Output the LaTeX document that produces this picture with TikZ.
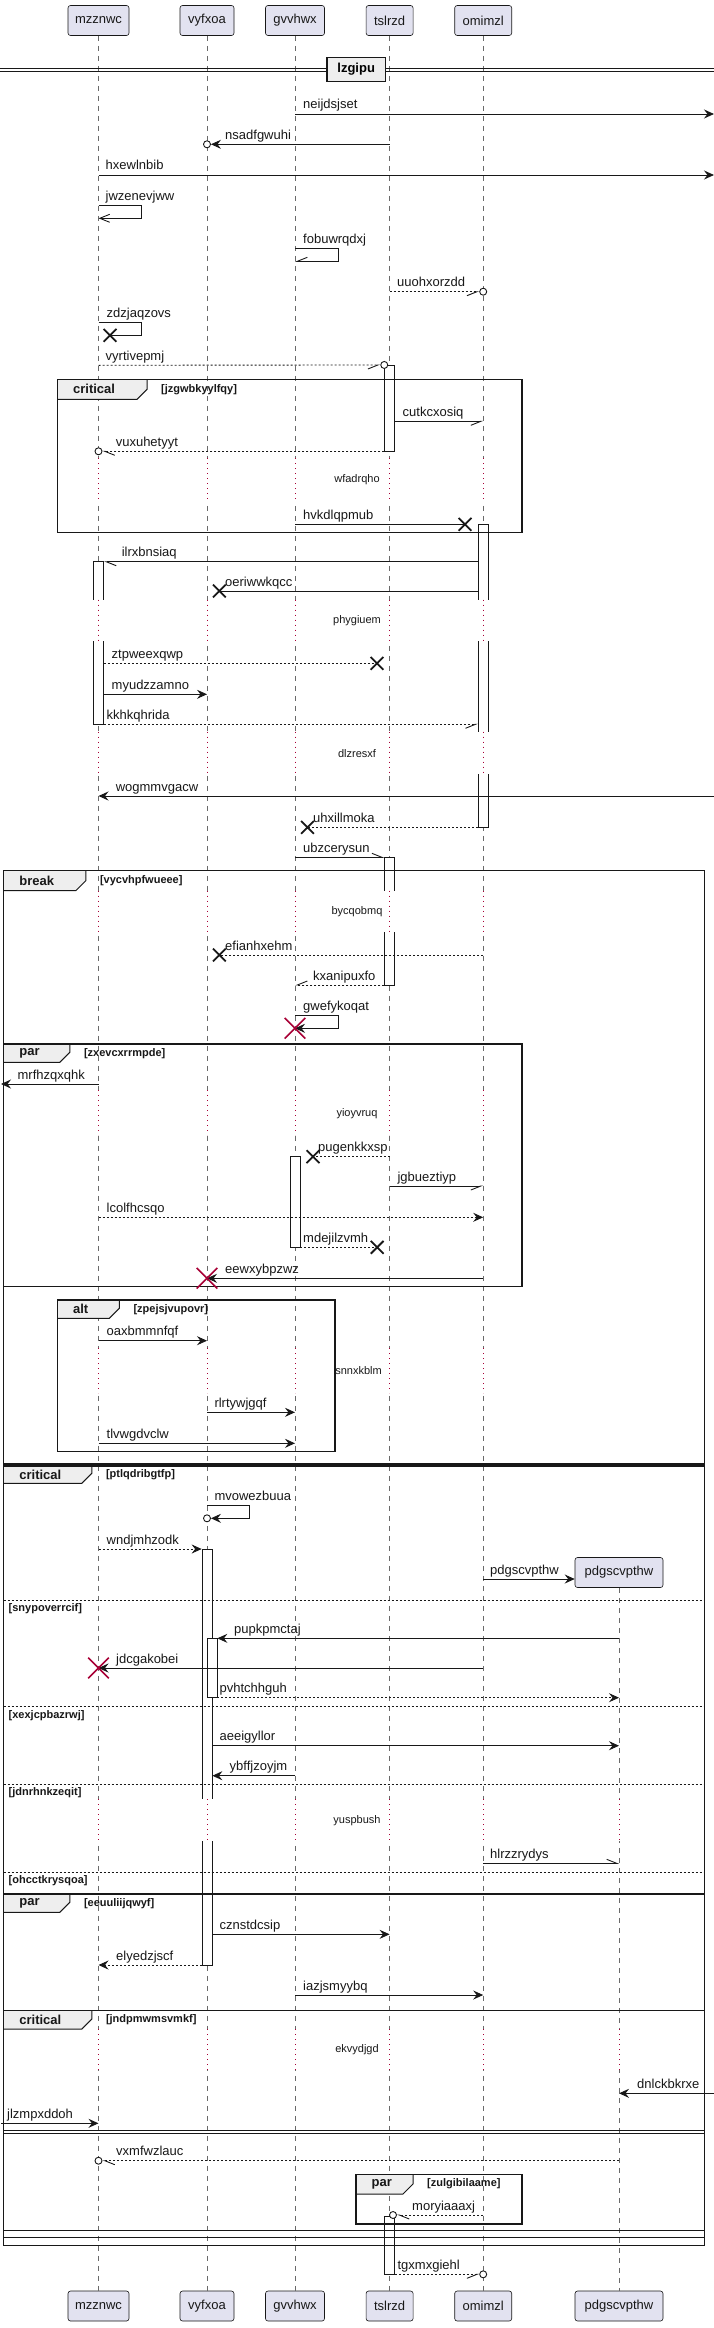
\documentclass[tikz,border=0pt]{standalone}
\usepackage{fontspec}
\setmainfont{Liberation Sans}
\usetikzlibrary{arrows.meta,shapes.misc}
\definecolor{ink}{HTML}{181818}
\definecolor{partfill}{HTML}{E2E2F0}
\definecolor{tabfill}{HTML}{EEEEEE}
\definecolor{crim}{HTML}{A80036}
\tikzset{
  part/.style={draw=ink, fill=partfill, rounded corners=2.5pt, line width=0.6pt, minimum height=30pt, inner sep=0pt, font=\fontsize{13}{15}\selectfont, text=ink},
  lifel/.style={draw=ink!65, line width=0.6pt, dash pattern=on 5pt off 5pt},
  dlyline/.style={draw=crim, line width=0.7pt, dash pattern=on 1pt off 4pt},
  dlytext/.style={font=\fontsize{11}{13}\selectfont, inner sep=0pt, text=ink},
  act/.style={draw=ink, fill=white, line width=0.7pt, minimum width=10pt, inner sep=0pt},
  msg/.style={draw=ink, line width=0.9pt},
  rmsg/.style={msg, dash pattern=on 2pt off 2pt},
  tipfull/.style={-{Stealth[length=10pt,width=9pt,inset=3.5pt]}},
  tipopen/.style={-{Straight Barb[length=10pt,width=8pt]}},
  tiphl/.style={-{Straight Barb[length=10pt,width=8pt,left]}},
  tiphr/.style={-{Straight Barb[length=10pt,width=8pt,right]}},
  ml/.style={font=\fontsize{13}{15}\selectfont, inner sep=0pt, anchor=base west, text=ink},
  circ/.style={circle, draw=ink, fill=white, line width=0.9pt, minimum size=7pt, inner sep=0pt},
  lost/.style={cross out, draw=ink, line width=1.8pt, minimum size=11pt, inner sep=0pt},
  kill/.style={cross out, draw=crim, line width=1.6pt, minimum size=19pt, inner sep=0pt},
  frm/.style={draw=ink, line width=1.5pt},
  tabedge/.style={draw=ink, line width=1pt},
  tabl/.style={font=\bfseries\fontsize{13}{15}\selectfont, inner sep=0pt, anchor=west, text=ink},
  guardl/.style={font=\bfseries\fontsize{11}{13}\selectfont, inner sep=0pt, anchor=west, text=ink},
  elsel/.style={draw=ink, line width=0.8pt, dash pattern=on 2pt off 2pt},
}
% name x0 y0 x1 y1 tabright tabbottom label guard
\newcommand\grp[9]{%
  \fill[tabfill] (#2,#3) -- (#6,#3) -- (#6,#7-10) -- (#6-10,#7) -- (#2,#7) -- cycle;
  \draw[tabedge] (#6,#3) -- (#6,#7-10) -- (#6-10,#7) -- (#2,#7);
  \draw[frm] (#2,#3) rectangle (#4,#5);
  \node[tabl] (#1l) at (#2+15.5,{(#3+#7)/2}) {#8};
  \node[guardl] (#1g) at (#6+14,{(#3+#7)/2}) {#9};
}
\newcommand\elseline[3]{%
  \draw[elsel] (3.7,#2) -- (704.4,#2);
  \node[guardl] (#1) at (8.5,#2+8.5) {#3};
}
% y1 y2 list
\newcommand\dgap[3]{%
  \foreach \n in {#3} {
    \fill[white] ([xshift=-7pt]\n |- 0,#1) rectangle ([xshift=7pt]\n |- 0,#2);
    \draw[dlyline] (\n |- 0,#1) -- (\n |- 0,#2);
  }
}
\begin{document}
\begin{tikzpicture}[x=1pt,y=-1pt]
\useasboundingbox (0,0) rectangle (714,2328);
\fill[white] (0,0) rectangle (714,2328);
\coordinate (redge) at (714,0);
\coordinate (ledge) at (1,0);

% participants
\node[part, minimum width=61pt] (p1) at (98.5,20.5) {mzznwc};
\node[part, minimum width=54pt] (p2) at (207,20.5) {vyfxoa};
\node[part, minimum width=59pt] (p3) at (295,20.5) {gvvhwx};
\node[part, minimum width=47pt] (p4) at (389.6,20.5) {tslrzd};
\node[part, minimum width=57pt] (p5) at (483.2,20.5) {omimzl};
\node[part, minimum width=88pt] (p6) at (619,1572.5) {pdgscvpthw};
\node[part, minimum width=61pt] (q1) at (98.5,2306) {mzznwc};
\node[part, minimum width=54pt] (q2) at (207,2306) {vyfxoa};
\node[part, minimum width=59pt] (q3) at (295,2306) {gvvhwx};
\node[part, minimum width=47pt] (q4) at (389.6,2306) {tslrzd};
\node[part, minimum width=57pt] (q5) at (483.2,2306) {omimzl};
\node[part, minimum width=88pt] (q6) at (619,2306) {pdgscvpthw};

% lifelines
\draw[lifel] (p1.south) -- (q1.north);
\draw[lifel] (p2.south) -- (q2.north);
\draw[lifel] (p3.south) -- (q3.north);
\draw[lifel] (p4.south) -- (q4.north);
\draw[lifel] (p5.south) -- (q5.north);
\draw[lifel] (p6.south) -- (q6.north);

% activations
\node[act, minimum height=86pt] (a1) at (p4 |- 0,408.3) {};
\node[act, minimum height=303pt] (a2) at (p5 |- 0,675.8) {};
\node[act, minimum height=162.6pt] (a3) at (p1 |- 0,643) {};
\node[act, minimum height=127.7pt] (a4) at (p4 |- 0,921.15) {};
\node[act, minimum height=90.6pt] (a5) at (p3 |- 0,1202) {};
\node[act, minimum height=416pt] (a6) at (p2 |- 0,1757) {};
\node[act, minimum height=59.4pt] (a7) at ([xshift=5pt]p2 |- 0,1668) {};
\node[act, minimum height=57.6pt] (a8) at (p4 |- 0,2245.5) {};

% delays
\dgap{458.3}{501.7}{p1,p2,p3,p4,p5}
\node[dlytext] (d1) at (357,480) {wfadrqho};
\dgap{599.7}{641}{p1,p2,p3,p4,p5}
\node[dlytext] (d2) at (357,620.5) {phygiuem};
\dgap{731.7}{774}{p1,p2,p3,p4,p5}
\node[dlytext] (d3) at (357,753.5) {dlzresxf};
\dgap{890.7}{931.7}{p1,p2,p3,p4,p5}
\node[dlytext] (d4) at (357,912) {bycqobmq};
\dgap{1090}{1135}{p1,p2,p3,p4,p5}
\node[dlytext] (d5) at (357,1113.5) {yioyvruq};
\dgap{1348.3}{1393.3}{p1,p2,p3,p4,p5}
\node[dlytext] (d6) at (358.5,1370.5) {snnxkblm};
\dgap{1799.3}{1841}{p1,p2,p3,p4,p5,p6}
\node[dlytext] (d7) at (357,1821) {yuspbush};
\dgap{2029}{2070}{p1,p2,p3,p4,p5,p6}
\node[dlytext] (d8) at (357,2050) {ekvydjgd};

% frames
\grp{f1}{57.4}{379.3}{521.8}{532.7}{147}{399.3}{critical}{[jzgwbkyylfqy]}
\grp{f2}{3.7}{870.7}{704.4}{1464}{85.8}{890.7}{break}{[vycvhpfwueee]}
\grp{f3}{3.7}{1044}{521.8}{1286.3}{69.8}{1062.3}{par}{[zxevcxrrmpde]}
\grp{f4}{57.4}{1300}{335}{1451.7}{119.3}{1318.3}{alt}{[zpejsjvupovr]}
\grp{f5}{3.7}{1466}{704.4}{2245.3}{91.8}{1483.3}{critical}{[ptlqdribgtfp]}
\elseline{e1}{1600}{[snypoverrcif]}
\elseline{e2}{1706.7}{[xexjcpbazrwj]}
\elseline{e3}{1784.3}{[jdnrhnkzeqit]}
\elseline{e4}{1872.3}{[ohcctkrysqoa]}
\grp{f6}{3.7}{1894}{704.4}{2237.7}{69.8}{1912.3}{par}{[eeuuliijqwyf]}
\grp{f7}{3.7}{2010.7}{704.4}{2230.7}{91.8}{2029}{critical}{[jndpmwmsvmkf]}
\draw[ink, line width=0.9pt] (3.7,2130.7) -- (704.4,2130.7);
\draw[ink, line width=0.9pt] (3.7,2133.2) -- (704.4,2133.2);
\grp{f8}{356}{2174.3}{521.8}{2224}{413}{2194}{par}{[zulgibilaame]}

% divider
\draw[ink, line width=0.9pt] (0,68.3) -- (714,68.3);
\draw[ink, line width=0.9pt] (0,71.3) -- (714,71.3);
\node[draw=ink, fill=tabfill, line width=1.5pt, minimum width=58.5pt, minimum height=24.4pt, inner sep=0pt, font=\bfseries\fontsize{13}{15}\selectfont] (dv) at (356.2,69.5) {lzgipu};

% messages
\draw[msg,tipfull] (p3 |- 0,114) -- (redge |- 0,114);
\node[ml] (t1) at (303,109) {neijdsjset};

\node[circ] (c1) at (p2 |- 0,144.3) {};
\draw[msg,tipfull] (p4 |- 0,144.3) -- (c1.east);
\node[ml] (t2) at (225,139.3) {nsadfgwuhi};

\draw[msg,tipfull] (p1 |- 0,175) -- (redge |- 0,175);
\node[ml] (t3) at (105.5,170) {hxewlnbib};

\draw[msg,tipopen] (p1 |- 0,205.3) -| (141.8,218.3) -- (p1 |- 0,218.3);
\node[ml] (t4) at (105.5,200.5) {jwzenevjww};

\draw[msg,tiphr] (p3 |- 0,248.3) -| (338,261.3) -- (p3 |- 0,261.3);
\node[ml] (t5) at (303,243.5) {fobuwrqdxj};

\node[circ] (c2) at (p5 |- 0,291.7) {};
\draw[rmsg,tiphr] (p4 |- 0,291.7) -- (c2.west);
\node[ml] (t6) at (397,286.7) {uuohxorzdd};

\node[lost] (x2) at (110,335.3) {};
\draw[msg] (p1 |- 0,322.3) -| (141.8,335.3) -- (x2.center);
\node[ml] (t7) at (106.5,317.5) {zdzjaqzovs};

\node[circ] (c3) at (a1.north west) {};
\draw[rmsg,tiphr] (p1 |- 0,365.3) -- (c3.west);
\node[ml] (t8) at (105.5,360.3) {vyrtivepmj};

\draw[msg,tiphr] (a1.east |- 0,421.3) -- (p5 |- 0,421.3);
\node[ml] (t9) at (402.5,416.3) {cutkcxosiq};

\node[circ] (c4) at (p1 |- 0,451.3) {};
\draw[rmsg,tiphl] (a1.west |- 0,451.3) -- (c4.east);
\node[ml] (t10) at (115.6,446.3) {vuxuhetyyt};

\node[lost] (x3) at (465,524.3) {};
\draw[msg] (p3 |- 0,524.3) -- (x3.center);
\node[ml] (t11) at (303,519.3) {hvkdlqpmub};

\draw[msg,tiphl] (a2.west |- 0,561.7) -- (a3.east |- 0,561.7);
\node[ml] (t12) at (121.6,556.7) {ilrxbnsiaq};

\node[lost] (x4) at (219.4,591) {};
\draw[msg] (a2.west |- 0,591) -- (x4.center);
\node[ml] (t13) at (225,586) {oeriwwkqcc};

\node[lost] (x5) at (377,663.3) {};
\draw[rmsg] (a3.east |- 0,663.3) -- (x5.center);
\node[ml] (t14) at (111.5,658.3) {ztpweexqwp};

\draw[msg,tipfull] (a3.east |- 0,694.3) -- (p2 |- 0,694.3);
\node[ml] (t15) at (111.5,689.3) {myudzzamno};

\draw[rmsg,tiphr] (a3.east |- 0,724.3) -- (a2.west |- 0,724.3);
\node[ml] (t16) at (106.5,719.3) {kkhkqhrida};

\draw[msg,tipfull] (redge |- 0,796) -- (p1 |- 0,796);
\node[ml] (t17) at (115.6,791) {wogmmvgacw};

\node[lost] (x6) at (307.5,827.3) {};
\draw[rmsg] (a2.west |- 0,827.3) -- (x6.center);
\node[ml] (t18) at (313,822.3) {uhxillmoka};

\draw[msg,tiphl] (p3 |- 0,857.3) -- (a4.west |- 0,857.3);
\node[ml] (t19) at (303,852.3) {ubzcerysun};

\node[lost] (x7) at (219.4,955) {};
\draw[rmsg] (p5 |- 0,955) -- (x7.center);
\node[ml] (t20) at (225,950) {efianhxehm};

\draw[rmsg,tiphr] (a4.west |- 0,985) -- (p3 |- 0,985);
\node[ml] (t21) at (313,980) {kxanipuxfo};

\draw[msg,tipfull] (p3 |- 0,1015.7) -| (338.2,1028.3) -- (p3 |- 0,1028.3);
\node[kill] (k1) at (p3 |- 0,1028.3) {};
\node[ml] (t22) at (303,1010.7) {gwefykoqat};

\draw[msg,tipfull] (p1 |- 0,1084) -- (ledge |- 0,1084);
\node[ml] (t23) at (17.4,1079) {mrfhzqxqhk};

\node[lost] (x8) at (313,1156.7) {};
\draw[rmsg] (p4 |- 0,1156.7) -- (x8.center);
\node[ml] (t24) at (318,1151.7) {pugenkkxsp};

\draw[msg,tiphr] (p4 |- 0,1186) -- (p5 |- 0,1186);
\node[ml] (t25) at (397.4,1181) {jgbueztiyp};

\draw[rmsg,tipfull] (p1 |- 0,1217.3) -- (p5 |- 0,1217.3);
\node[ml] (t26) at (106.5,1212.3) {lcolfhcsqo};

\node[lost] (x9) at (377.2,1247.3) {};
\draw[rmsg] (a5.east |- 0,1247.3) -- (x9.center);
\node[ml] (t27) at (303,1242.3) {mdejilzvmh};

\draw[msg,tipfull] (p5 |- 0,1278.3) -- (p2 |- 0,1278.3);
\node[kill] (k2) at (p2 |- 0,1278.3) {};
\node[ml] (t28) at (225,1273.3) {eewxybpzwz};

\draw[msg,tipfull] (p1 |- 0,1340.7) -- (p2 |- 0,1340.7);
\node[ml] (t29) at (106.5,1335.7) {oaxbmmnfqf};

\draw[msg,tipfull] (p2 |- 0,1412.3) -- (p3 |- 0,1412.3);
\node[ml] (t30) at (214.3,1407.3) {rlrtywjgqf};

\draw[msg,tipfull] (p1 |- 0,1443.3) -- (p3 |- 0,1443.3);
\node[ml] (t31) at (106.5,1438.3) {tlvwgdvclw};

\node[circ] (c5) at (p2 |- 0,1518.3) {};
\draw[msg,tipfull] (p2 |- 0,1505.3) -| (249.6,1518.3) -- (c5.east);
\node[ml] (t32) at (214.3,1500.5) {mvowezbuua};

\draw[rmsg,tipfull] (p1 |- 0,1549) -- (a6.west |- 0,1549);
\node[ml] (t33) at (106.5,1544) {wndjmhzodk};

\draw[msg,tipfull] (p5 |- 0,1579) -- (p6.west |- 0,1579);
\node[ml] (t34) at (490,1574) {pdgscvpthw};

\draw[msg,tipfull] (p6 |- 0,1638.3) -- (a7.east |- 0,1638.3);
\node[ml] (t35) at (234,1633.3) {pupkpmctaj};

\draw[msg,tipfull] (p5 |- 0,1668) -- (p1 |- 0,1668);
\node[kill] (k3) at (p1 |- 0,1668) {};
\node[ml] (t36) at (116,1663) {jdcgakobei};

\draw[rmsg,tipfull] (a7.east |- 0,1697.7) -- (p6 |- 0,1697.7);
\node[ml] (t37) at (219.4,1692.7) {pvhtchhguh};

\draw[msg,tipfull] (a6.east |- 0,1745.7) -- (p6 |- 0,1745.7);
\node[ml] (t38) at (219.4,1740.7) {aeeigyllor};

\draw[msg,tipfull] (p3 |- 0,1775.7) -- (a6.east |- 0,1775.7);
\node[ml] (t39) at (229.5,1770.7) {ybffjzoyjm};

\draw[msg,tiphl] (p5 |- 0,1863.3) -- (p6 |- 0,1863.3);
\node[ml] (t40) at (490,1858.3) {hlrzzrydys};

\draw[msg,tipfull] (a6.east |- 0,1934.3) -- (p4 |- 0,1934.3);
\node[ml] (t41) at (219.4,1929.3) {cznstdcsip};

\draw[rmsg,tipfull] (a6.west |- 0,1965) -- (p1 |- 0,1965);
\node[ml] (t42) at (116,1960) {elyedzjscf};

\draw[msg,tipfull] (p3 |- 0,1995) -- (p5 |- 0,1995);
\node[ml] (t43) at (303,1990) {iazjsmyybq};

\draw[msg,tipfull] (redge |- 0,2093.3) -- (p6 |- 0,2093.3);
\node[ml] (t44) at (637,2088.3) {dnlckbkrxe};

\draw[msg,tipfull] (ledge |- 0,2123.3) -- (p1 |- 0,2123.3);
\node[ml] (t45) at (7,2118.3) {jlzmpxddoh};

\node[circ] (c6) at (p1 |- 0,2160.7) {};
\draw[rmsg,tiphl] (p6 |- 0,2160.7) -- (c6.east);
\node[ml] (t46) at (116,2155.7) {vxmfwzlauc};

\node[circ] (c7) at (393,2215) {};
\draw[rmsg,tiphl] (p5 |- 0,2215) -- (c7.east);
\node[ml] (t47) at (412,2210) {moryiaaaxj};

\node[circ] (c8) at (p5 |- 0,2274.3) {};
\draw[rmsg,tiphr] (a8.east |- 0,2274.3) -- (c8.west);
\node[ml] (t48) at (397.4,2269.3) {tgxmxgiehl};
\end{tikzpicture}
\end{document}
